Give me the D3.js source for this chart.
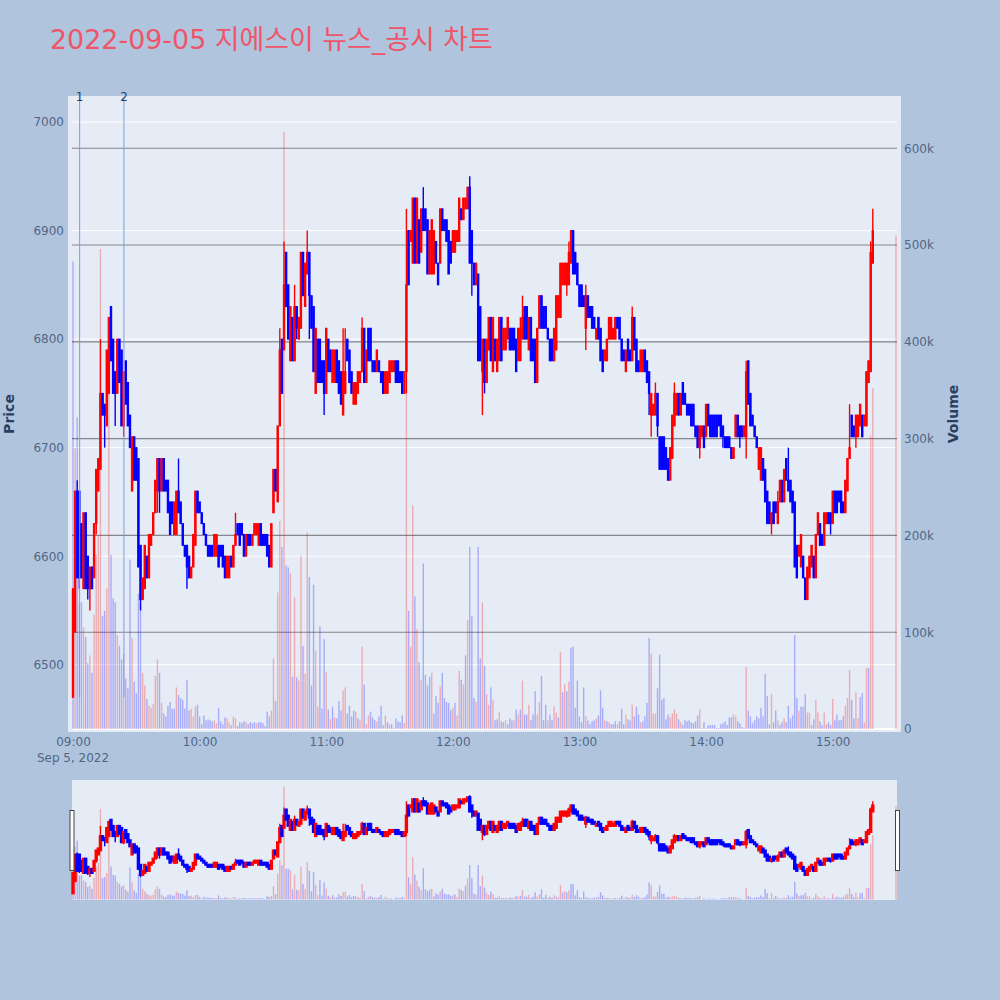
<!DOCTYPE html>
<html>
<head>
<meta charset="utf-8">
<script src="https://cdn.jsdelivr.net/npm/d3@7"></script>
<style>
  html, body { margin: 0; padding: 0; background: #b0c4de; }
  text { font-family: "DejaVu Sans", "Noto Sans CJK KR", sans-serif; }
</style>
</head>
<body>
<div id="chart"></div>
<script>
// minutes after 09:00, one candle per minute, then the closing auction at 15:30
const minutes = [...d3.range(380), 390];

const opens = [
  6470,6530,6660,6660,6630,6570,6640,6600,6570,6590,
  6580,6630,6660,6680,6750,6740,6720,6750,6830,6800,
  6770,6750,6800,6790,6720,6780,6760,6730,6660,6710,
  6700,6690,6610,6560,6570,6600,6580,6610,6620,6640,
  6660,6690,6660,6690,6670,6670,6650,6650,6620,6620,
  6660,6650,6630,6610,6610,6600,6580,6590,6610,6660,
  6650,6640,6630,6620,6610,6610,6610,6600,6600,6610,
  6610,6610,6600,6580,6580,6600,6590,6610,6630,6630,
  6630,6620,6600,6620,6620,6610,6620,6620,6610,6630,
  6620,6620,6620,6610,6590,6640,6680,6650,6720,6800,
  6790,6880,6850,6780,6820,6780,6830,6800,6810,6880,
  6830,6860,6880,6840,6830,6750,6800,6800,6780,6780,
  6750,6800,6790,6760,6760,6790,6780,6770,6730,6750,
  6800,6790,6770,6740,6740,6750,6760,6770,6810,6760,
  6810,6810,6780,6780,6770,6780,6770,6770,6750,6750,
  6760,6770,6770,6780,6780,6770,6770,6750,6770,6900,
  6890,6870,6930,6870,6910,6880,6920,6920,6910,6860,
  6860,6860,6890,6870,6870,6920,6910,6910,6900,6890,
  6880,6880,6890,6890,6920,6910,6920,6920,6940,6900,
  6870,6850,6860,6830,6770,6800,6760,6790,6820,6770,
  6800,6770,6780,6820,6790,6790,6800,6810,6810,6810,
  6800,6780,6780,6800,6830,6830,6790,6820,6800,6800,
  6760,6810,6840,6830,6830,6810,6800,6800,6780,6790,
  6820,6820,6850,6850,6850,6850,6870,6900,6880,6870,
  6850,6850,6840,6810,6840,6830,6830,6820,6800,6820,
  6810,6790,6780,6780,6800,6800,6800,6800,6820,6820,
  6800,6790,6770,6800,6790,6780,6820,6800,6780,6770,
  6770,6790,6780,6770,6730,6730,6730,6750,6710,6710,
  6710,6700,6690,6670,6690,6720,6730,6750,6730,6760,
  6750,6740,6740,6740,6740,6720,6720,6700,6710,6720,
  6710,6740,6730,6730,6730,6730,6730,6730,6720,6710,
  6710,6710,6700,6690,6710,6730,6720,6720,6710,6710,
  6780,6750,6730,6720,6710,6680,6670,6690,6680,6660,
  6650,6630,6650,6650,6630,6650,6670,6650,6690,6670,
  6670,6660,6650,6610,6600,6590,6600,6580,6560,6580,
  6590,6600,6580,6620,6630,6620,6610,6630,6640,6640,
  6630,6660,6660,6660,6660,6650,6640,6660,6690,6730,
  6720,6710,6710,6720,6730,6720,6720,6760,6770,6870,
  6910];

const highs = [
  6570,6660,6670,6660,6630,6640,6640,6600,6590,6590,
  6630,6680,6690,6800,6750,6740,6790,6820,6830,6800,
  6770,6800,6800,6790,6770,6780,6760,6730,6710,6710,
  6700,6690,6610,6580,6610,6600,6620,6620,6640,6670,
  6690,6690,6690,6690,6670,6670,6650,6650,6650,6660,
  6690,6650,6630,6610,6610,6600,6590,6620,6660,6660,
  6650,6640,6630,6620,6610,6610,6610,6620,6620,6610,
  6610,6610,6600,6600,6600,6600,6610,6640,6630,6630,
  6630,6620,6620,6620,6620,6620,6630,6630,6630,6630,
  6620,6620,6620,6610,6630,6680,6680,6720,6810,6800,
  6890,6880,6850,6830,6820,6850,6830,6820,6880,6880,
  6870,6900,6880,6840,6830,6810,6800,6800,6780,6780,
  6810,6800,6790,6790,6790,6790,6780,6770,6810,6810,
  6800,6790,6770,6760,6760,6770,6770,6820,6810,6790,
  6810,6810,6780,6780,6790,6780,6770,6770,6770,6770,
  6780,6780,6780,6780,6780,6770,6770,6770,6920,6900,
  6900,6930,6930,6930,6910,6920,6940,6920,6910,6900,
  6910,6900,6890,6870,6920,6920,6910,6910,6900,6890,
  6900,6900,6900,6930,6920,6930,6930,6940,6950,6900,
  6870,6870,6860,6830,6800,6800,6800,6820,6820,6820,
  6800,6800,6820,6820,6810,6810,6820,6810,6810,6810,
  6800,6810,6820,6840,6830,6830,6820,6820,6800,6800,
  6810,6840,6840,6830,6830,6810,6800,6800,6810,6840,
  6840,6870,6870,6870,6870,6890,6900,6900,6880,6870,
  6850,6850,6840,6850,6840,6830,6830,6820,6810,6820,
  6810,6790,6790,6800,6820,6820,6810,6820,6820,6820,
  6800,6790,6790,6800,6790,6830,6820,6800,6780,6790,
  6790,6790,6780,6770,6750,6740,6760,6750,6710,6710,
  6710,6700,6690,6700,6730,6760,6750,6750,6750,6760,
  6750,6740,6740,6740,6740,6720,6720,6720,6720,6720,
  6740,6740,6730,6730,6730,6730,6730,6730,6720,6710,
  6710,6710,6700,6700,6730,6730,6720,6720,6720,6780,
  6780,6750,6730,6720,6710,6700,6700,6690,6680,6660,
  6650,6640,6650,6650,6660,6670,6670,6680,6690,6700,
  6670,6660,6650,6610,6610,6620,6600,6580,6590,6600,
  6610,6600,6620,6640,6630,6620,6640,6640,6640,6640,
  6660,6660,6660,6660,6660,6650,6670,6690,6740,6730,
  6720,6730,6730,6740,6730,6730,6770,6780,6890,6920,
  6910];

const lows = [
  6470,6530,6580,6570,6580,6570,6570,6560,6550,6570,
  6580,6620,6660,6680,6730,6700,6720,6750,6780,6750,
  6720,6750,6760,6720,6710,6740,6720,6700,6660,6670,
  6670,6590,6550,6560,6570,6580,6580,6610,6620,6640,
  6640,6640,6660,6660,6660,6640,6620,6630,6620,6620,
  6640,6630,6610,6600,6570,6580,6580,6590,6610,6640,
  6640,6630,6620,6610,6600,6600,6600,6600,6600,6590,
  6600,6590,6580,6580,6580,6590,6590,6610,6620,6610,
  6620,6600,6600,6610,6610,6610,6620,6620,6610,6610,
  6610,6610,6600,6590,6590,6640,6660,6650,6720,6750,
  6790,6830,6800,6780,6780,6780,6800,6800,6810,6840,
  6830,6860,6800,6810,6770,6750,6760,6760,6760,6730,
  6750,6770,6770,6760,6760,6760,6750,6740,6730,6750,
  6780,6760,6750,6740,6740,6750,6760,6770,6760,6760,
  6780,6780,6770,6770,6770,6770,6760,6750,6750,6750,
  6760,6770,6770,6760,6760,6760,6750,6750,6750,6850,
  6890,6870,6870,6870,6870,6880,6900,6900,6860,6860,
  6860,6860,6870,6850,6870,6900,6900,6890,6860,6870,
  6880,6880,6890,6890,6910,6910,6920,6920,6870,6840,
  6850,6850,6780,6780,6730,6750,6760,6790,6780,6770,
  6780,6770,6780,6780,6790,6790,6800,6790,6790,6790,
  6770,6780,6780,6800,6800,6800,6790,6780,6780,6760,
  6760,6810,6810,6810,6810,6800,6780,6780,6780,6790,
  6820,6820,6850,6850,6840,6850,6870,6860,6860,6850,
  6830,6830,6830,6790,6820,6820,6810,6810,6800,6800,
  6780,6770,6780,6780,6800,6800,6800,6800,6810,6800,
  6780,6780,6770,6780,6780,6780,6790,6770,6770,6770,
  6770,6770,6760,6730,6710,6730,6730,6710,6680,6680,
  6680,6680,6670,6670,6690,6720,6730,6730,6730,6740,
  6740,6730,6730,6720,6720,6710,6700,6690,6710,6700,
  6710,6720,6710,6710,6710,6710,6720,6710,6700,6700,
  6700,6700,6690,6690,6710,6710,6700,6710,6710,6690,
  6740,6720,6720,6710,6700,6680,6670,6670,6650,6630,
  6630,6620,6630,6640,6630,6650,6650,6650,6670,6660,
  6650,6640,6590,6580,6600,6590,6580,6560,6560,6580,
  6590,6580,6580,6620,6610,6610,6610,6630,6630,6620,
  6630,6640,6640,6650,6640,6640,6640,6660,6690,6710,
  6710,6700,6710,6720,6710,6720,6720,6760,6770,6870,
  6910];

const closes = [
  6570,6660,6580,6580,6580,6640,6570,6570,6590,6570,
  6630,6680,6690,6750,6730,6730,6790,6820,6780,6750,
  6750,6800,6760,6720,6770,6740,6720,6700,6710,6670,
  6670,6590,6560,6580,6610,6580,6620,6620,6640,6670,
  6690,6660,6690,6660,6660,6640,6620,6630,6650,6660,
  6640,6630,6610,6600,6590,6580,6590,6620,6660,6640,
  6640,6630,6620,6610,6600,6600,6600,6620,6620,6590,
  6600,6590,6580,6600,6600,6590,6610,6620,6620,6610,
  6620,6600,6620,6610,6610,6620,6630,6630,6630,6610,
  6610,6610,6600,6590,6630,6680,6660,6720,6790,6750,
  6850,6830,6800,6830,6780,6830,6810,6820,6880,6840,
  6870,6880,6840,6810,6770,6810,6760,6760,6760,6750,
  6810,6770,6770,6790,6790,6760,6750,6740,6770,6770,
  6780,6760,6750,6760,6760,6770,6770,6810,6760,6790,
  6780,6780,6770,6770,6790,6770,6760,6750,6770,6770,
  6780,6780,6780,6760,6760,6760,6750,6770,6850,6850,
  6900,6930,6870,6930,6870,6920,6900,6900,6860,6900,
  6910,6900,6870,6850,6920,6900,6900,6890,6860,6870,
  6900,6900,6900,6930,6910,6930,6930,6940,6870,6870,
  6850,6870,6780,6780,6800,6760,6800,6820,6780,6820,
  6780,6800,6820,6780,6810,6810,6820,6790,6790,6790,
  6770,6810,6810,6820,6800,6800,6820,6780,6780,6760,
  6810,6840,6810,6810,6810,6800,6780,6780,6810,6840,
  6840,6870,6870,6870,6870,6880,6900,6860,6860,6850,
  6830,6830,6830,6840,6820,6820,6810,6810,6810,6800,
  6780,6770,6790,6800,6820,6820,6810,6820,6810,6800,
  6780,6780,6790,6780,6780,6820,6790,6770,6770,6790,
  6790,6770,6760,6750,6750,6740,6750,6720,6680,6680,
  6680,6680,6670,6700,6730,6750,6750,6730,6750,6740,
  6740,6730,6730,6720,6720,6710,6700,6720,6720,6700,
  6740,6720,6710,6710,6710,6710,6720,6710,6710,6700,
  6700,6700,6690,6700,6730,6710,6710,6710,6720,6770,
  6740,6720,6720,6710,6700,6700,6700,6670,6650,6630,
  6630,6640,6630,6640,6650,6670,6650,6680,6670,6660,
  6650,6640,6590,6580,6610,6620,6580,6560,6590,6600,
  6610,6580,6620,6640,6610,6610,6640,6640,6630,6630,
  6660,6640,6640,6650,6640,6640,6670,6690,6700,6710,
  6710,6730,6730,6740,6710,6730,6770,6780,6880,6900,
  6910];

// volume in thousands
const volumes = [
  483,290,322,130,131,105,95,68,76,58,
  118,180,200,496,117,122,145,350,180,135,
  131,97,86,72,78,52,42,175,94,49,
  37,140,130,58,45,31,24,22,26,55,
  72,58,27,16,13,24,28,21,21,43,
  35,32,30,21,51,19,21,13,23,25,
  13,5,14,9,10,9,8,9,6,22,
  8,5,12,11,7,4,13,11,3,7,
  6,8,7,5,7,6,7,6,7,7,
  6,3,18,13,19,73,29,141,215,188,
  617,169,167,161,54,136,53,50,179,86,
  57,203,157,45,149,81,23,106,21,93,
  59,20,10,23,12,11,29,19,40,43,
  16,24,13,19,18,11,9,85,46,5,
  14,18,12,9,8,13,24,4,14,7,
  5,5,1,11,8,7,14,6,347,122,
  85,231,137,103,69,51,171,56,45,54,
  58,16,34,27,44,58,32,28,27,20,
  22,27,14,60,51,46,76,113,188,117,
  32,28,188,73,131,65,36,25,43,30,
  9,10,18,8,7,9,5,11,9,9,
  20,15,20,50,15,15,25,9,15,39,
  15,28,55,9,25,9,15,9,23,17,
  12,80,38,46,39,49,84,85,22,50,
  13,7,43,13,9,5,8,9,11,14,
  40,22,9,8,7,5,5,8,5,8,
  21,5,15,10,9,25,13,23,15,7,
  8,13,27,94,78,16,16,42,77,30,
  32,10,15,12,16,20,16,10,7,4,
  9,8,9,7,6,8,14,20,1,7,
  1,4,4,4,4,1,1,5,6,8,
  4,12,12,15,13,8,6,2,1,64,
  19,13,6,9,13,11,22,13,57,34,
  5,36,7,19,9,4,7,11,7,24,
  11,14,97,32,19,23,23,36,17,17,
  4,10,30,17,8,4,17,5,7,4,
  31,9,15,9,9,13,24,32,61,30,
  11,38,11,33,37,7,63,63,303,352,
  510];

// r = red volume bar, b = blue volume bar
const volumeSides = (
  "brbbbrbbrb" + "rrrrbbrrbb" + "brbbrbbbrb" + "bbbrrbrrrr" +
  "rbrbbbbbbr" + "bbbbbbrrrb" + "bbbbbbbrrb" + "bbbrrbrrbb" +
  "bbrbbbbrbb" + "bbbbrrbrrb" + "rbbrbrbrrb" + "rrbbbrrbbb" +
  "rbrbrbbbrr" + "bbbbrbrrbr" + "rbbbrbbbrb" + "rbbbbbbrrb" +
  "rrbrbrbbbb" + "rbbbrbbbbb" + "rbrrbrbrbb" + "brbbrbrrbr" +
  "bbrbbrbbbr" + "brbrbbrbbb" + "rrbbbrbbrr" + "brbrbrbbbb" +
  "bbbrbbbbrb" + "bbrbrbbbrb" + "bbrbbrbbbr" + "bbbbrrrbbb" +
  "bbbrrrrbrb" + "bbbbbbbrbb" + "rbbbbbbbbb" + "bbbrrbbbbr" +
  "bbbbbbbbbb" + "brbbrbbrbb" + "bbbbrbbbrr" + "bbrrbbrrbb" +
  "rbbbbbrrrb" + "brrbbrrbrr" + "r").split("");

const priceTicks = [6500, 6600, 6700, 6800, 6900, 7000];
const volumeTicks = [0, 100, 200, 300, 400, 500, 600];
const timeTicks = [0, 60, 120, 180, 240, 300, 360];
const noteMinutes = [3, 24];
const noteLabels = ["1", "2"];
const notePrice = 6470;

const RED = "#ff0000";
const BLUE = "#0000ff";
const TICK_COLOR = "#506784";
const AXIS_COLOR = "#2a3f5f";
const startTime = new Date(2022, 8, 5, 9, 0);

function toTime(m) {
    return d3.timeMinute.offset(startTime, m);
}

function drawCandles(group, x, y, bodyStroke) {
    // wicks first, then the bodies, in time order
    const candles = group.selectAll(".candle")
        .data(minutes.map((m, i) => i))
        .enter()
        .append("g")
        .attr("class", "candle")
        .attr("fill", (i) => closes[i] >= opens[i] ? RED : BLUE)
        .attr("stroke", (i) => closes[i] >= opens[i] ? RED : BLUE);

    candles.append("line")
        .attr("x1", (i) => x(toTime(minutes[i])))
        .attr("x2", (i) => x(toTime(minutes[i])))
        .attr("y1", (i) => y(highs[i]))
        .attr("y2", (i) => y(lows[i]))
        .attr("stroke-width", 1.4);

    candles.append("rect")
        .attr("x", (i) => x(toTime(minutes[i])) - 0.7)
        .attr("width", 1.4)
        .attr("y", (i) => y(Math.max(opens[i], closes[i])))
        .attr("height", (i) => Math.abs(y(opens[i]) - y(closes[i])))
        .attr("stroke-width", bodyStroke);
}

function drawVolume(group, x, y) {
    group.selectAll(".vol")
        .data(minutes.map((m, i) => i))
        .enter()
        .append("rect")
        .attr("class", "vol")
        .attr("x", (i) => x(toTime(minutes[i])) - 0.7)
        .attr("width", 1.4)
        .attr("y", (i) => y(volumes[i]))
        .attr("height", (i) => y(0) - y(volumes[i]))
        .attr("fill", (i) => volumeSides[i] === "r" ? RED : BLUE)
        .attr("fill-opacity", 0.27);
}

function createChart() {
    const svg = d3.select("#chart")
        .append("svg")
        .attr("width", 1000)
        .attr("height", 1000);

    svg.append("rect").attr("width", 1000).attr("height", 1000).attr("fill", "#b0c4de");

    svg.append("text")
        .attr("x", 50)
        .attr("y", 49)
        .attr("font-size", 26.9)
        .attr("fill", "#ef5568")
        .text("2022-09-05 지에스이 뉴스_공시 차트");

    // main plot
    const plotLeft = 68, plotRight = 901, plotTop = 96, plotBottom = 732;
    const innerLeft = 72, innerRight = 897;

    svg.append("rect")
        .attr("x", plotLeft)
        .attr("y", plotTop)
        .attr("width", plotRight - plotLeft)
        .attr("height", plotBottom - plotTop)
        .attr("fill", "#e5ecf6");

    const x = d3.scaleTime().domain([toTime(0), toTime(390)]).range([73, 896]);
    const price = d3.scaleLinear().domain([6438, 7024]).range([plotBottom, plotTop]);
    const volume = d3.scaleLinear().domain([-3.1, 654]).range([plotBottom, plotTop]);

    svg.append("g").selectAll("line")
        .data(priceTicks)
        .enter()
        .append("line")
        .attr("x1", innerLeft).attr("x2", innerRight)
        .attr("y1", (d) => price(d)).attr("y2", (d) => price(d))
        .attr("stroke", "#ffffff")
        .attr("stroke-width", 1);

    svg.append("g").selectAll("line")
        .data(volumeTicks)
        .enter()
        .append("line")
        .attr("x1", innerLeft).attr("x2", innerRight)
        .attr("y1", (d) => volume(d)).attr("y2", (d) => volume(d))
        .attr("stroke", (d) => d === 0 ? "#ffffff" : "#85858a")
        .attr("stroke-width", (d) => d === 0 ? 2 : 1.1);

    drawVolume(svg.append("g"), x, volume);
    drawCandles(svg.append("g"), x, price, 1);

    // numbered markers
    const notes = svg.append("g");
    notes.selectAll("line")
        .data(noteMinutes)
        .enter()
        .append("line")
        .attr("x1", (d) => x(toTime(d)) + 0.3)
        .attr("x2", (d) => x(toTime(d)) + 0.3)
        .attr("y1", plotTop + 2)
        .attr("y2", price(notePrice))
        .attr("stroke", "#8298ea")
        .attr("stroke-width", 1);
    notes.selectAll("text")
        .data(noteMinutes)
        .enter()
        .append("text")
        .attr("x", (d) => x(toTime(d)) + 0.3)
        .attr("y", plotTop + 5)
        .attr("text-anchor", "middle")
        .attr("font-size", 12)
        .attr("fill", AXIS_COLOR)
        .text((d, i) => noteLabels[i]);

    // axes
    const leftAxis = svg.append("g")
        .attr("transform", `translate(${plotLeft},0)`)
        .call(d3.axisLeft(price).tickValues(priceTicks).tickSize(0).tickPadding(4).tickFormat(d3.format("d")));
    const rightAxis = svg.append("g")
        .attr("transform", `translate(${plotRight},0)`)
        .call(d3.axisRight(volume).tickValues(volumeTicks).tickSize(0).tickPadding(3)
            .tickFormat((d) => d === 0 ? "0" : d + "k"));
    const bottomAxis = svg.append("g")
        .attr("transform", `translate(0,${plotBottom})`)
        .call(d3.axisBottom(x).tickValues(timeTicks.map(toTime)).tickSize(0).tickPadding(5)
            .tickFormat(d3.timeFormat("%H:%M")));

    [leftAxis, rightAxis, bottomAxis].forEach((axis) => {
        axis.select(".domain").remove();
        axis.selectAll("text")
            .attr("font-size", 12)
            .attr("font-family", "DejaVu Sans")
            .attr("fill", TICK_COLOR);
    });

    svg.append("text")
        .attr("x", 73).attr("y", 762)
        .attr("text-anchor", "middle")
        .attr("font-size", 12)
        .attr("fill", TICK_COLOR)
        .text("Sep 5, 2022");

    svg.append("text")
        .attr("transform", "translate(14,414) rotate(-90)")
        .attr("text-anchor", "middle")
        .attr("font-size", 14)
        .attr("font-weight", "bold")
        .attr("fill", AXIS_COLOR)
        .text("Price");

    svg.append("text")
        .attr("transform", "translate(958,414) rotate(-90)")
        .attr("text-anchor", "middle")
        .attr("font-size", 14)
        .attr("font-weight", "bold")
        .attr("fill", AXIS_COLOR)
        .text("Volume");

    // range slider
    const sliderTop = 780, sliderBottom = 900;
    svg.append("rect")
        .attr("x", innerLeft)
        .attr("y", sliderTop)
        .attr("width", innerRight - innerLeft)
        .attr("height", sliderBottom - sliderTop)
        .attr("fill", "#e5ecf6");

    const miniPrice = d3.scaleLinear().domain([6438, 7024]).range([sliderBottom, sliderTop]);
    const miniVolume = d3.scaleLinear().domain([-3.1, 654]).range([sliderBottom, sliderTop]);

    drawVolume(svg.append("g"), x, miniVolume);
    drawCandles(svg.append("g"), x, miniPrice, 2);

    svg.append("g").selectAll("rect")
        .data([x(toTime(0)), x(toTime(390))])
        .enter()
        .append("rect")
        .attr("x", (d, i) => i === 0 ? d - 3 : d - 0.5)
        .attr("y", 810.5)
        .attr("width", 4)
        .attr("height", 60)
        .attr("fill", "#ffffff")
        .attr("stroke", "#444444")
        .attr("stroke-width", 1);
}

createChart();
</script>
</body>
</html>
